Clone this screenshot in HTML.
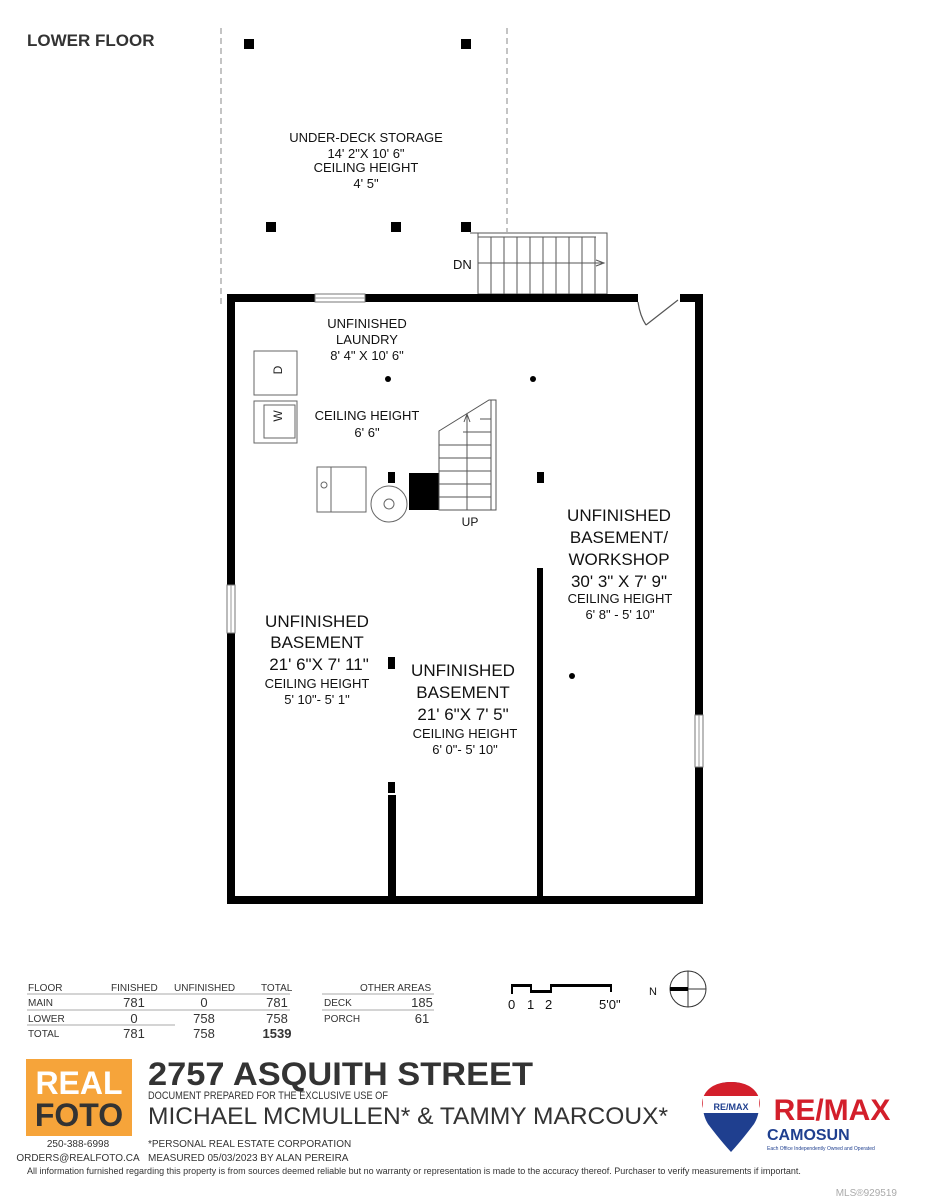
<!DOCTYPE html>
<html><head><meta charset="utf-8"><style>
html,body{margin:0;padding:0;background:#fff;}
svg{display:block;font-family:"Liberation Sans",sans-serif;}
</style></head><body>
<svg width="927" height="1200" viewBox="0 0 927 1200" xmlns="http://www.w3.org/2000/svg">
<rect width="927" height="1200" fill="#fff"/>
<text x="27" y="46" font-size="17" font-weight="bold" fill="#333">LOWER FLOOR</text>
<g stroke="#888" stroke-width="1" stroke-dasharray="6,4" fill="none">
<line x1="221" y1="28" x2="221" y2="306"/>
<line x1="507" y1="28" x2="507" y2="232"/>
</g>
<g fill="#000">
<rect x="244" y="39" width="10" height="10"/><rect x="461" y="39" width="10" height="10"/>
<rect x="266" y="222" width="10" height="10"/><rect x="391" y="222" width="10" height="10"/><rect x="461" y="222" width="10" height="10"/>
</g>
<g font-size="13" fill="#111" text-anchor="middle">
<text x="366" y="142">UNDER-DECK STORAGE</text>
<text x="366" y="158">14' 2"X 10' 6"</text>
<text x="366" y="172">CEILING HEIGHT</text>
<text x="366" y="188">4' 5"</text>
</g>
<g stroke="#555" stroke-width="1" fill="none">
<rect x="478" y="233" width="129" height="61"/>
<line x1="470" y1="233" x2="478" y2="233"/>
<line x1="478" y1="263" x2="602" y2="263"/>
<line x1="478" y1="237" x2="596" y2="237"/>
</g>
<g stroke="#555" stroke-width="1">
<line x1="491" y1="237" x2="491" y2="294"/><line x1="504" y1="237" x2="504" y2="294"/><line x1="517" y1="237" x2="517" y2="294"/><line x1="530" y1="237" x2="530" y2="294"/><line x1="543" y1="237" x2="543" y2="294"/><line x1="556" y1="237" x2="556" y2="294"/><line x1="569" y1="237" x2="569" y2="294"/><line x1="582" y1="237" x2="582" y2="294"/><line x1="595" y1="237" x2="595" y2="294"/>
</g>
<path d="M596 260 L604 263 L596 266" fill="none" stroke="#555"/>
<text x="453" y="269" font-size="13" fill="#111">DN</text>
<g fill="#000">
<rect x="227" y="294" width="411" height="8"/>
<rect x="680" y="294" width="23" height="8"/>
<rect x="227" y="294" width="8" height="610"/>
<rect x="695" y="294" width="8" height="610"/>
<rect x="227" y="896" width="476" height="8"/>
<rect x="537" y="568" width="6" height="330"/>
<rect x="388" y="795" width="8" height="103"/>
<rect x="388" y="782" width="7" height="11"/>
</g>
<rect x="315" y="294" width="50" height="8" fill="#fff" stroke="#777" stroke-width="1"/>
<line x1="315" y1="298" x2="365" y2="298" stroke="#999"/>
<rect x="227" y="585" width="8" height="48" fill="#fff" stroke="#777" stroke-width="1"/>
<line x1="231" y1="585" x2="231" y2="633" stroke="#999"/>
<rect x="695" y="715" width="8" height="52" fill="#fff" stroke="#777" stroke-width="1"/>
<line x1="699" y1="715" x2="699" y2="767" stroke="#999"/>
<path d="M678 300 L646 325 M638 302 Q640 316 646 325" fill="none" stroke="#555" stroke-width="1.2"/>
<g fill="#fff" stroke="#666" stroke-width="1">
<rect x="254" y="351" width="43" height="44"/>
<rect x="254" y="401" width="43" height="42"/>
<rect x="264" y="405" width="31" height="33"/>
<rect x="317" y="467" width="49" height="45"/>
<rect x="331" y="467" width="35" height="45"/>
<circle cx="324" cy="485" r="3"/>
<circle cx="389" cy="504" r="18"/>
<circle cx="389" cy="504" r="5"/>
</g>
<text x="285" y="373" font-size="12" transform="rotate(-90 282 373)" text-anchor="middle" fill="#222">D</text>
<text x="286" y="420" font-size="12" transform="rotate(-90 282 420)" text-anchor="middle" fill="#222">W</text>
<rect x="409" y="473" width="30" height="37" fill="#000"/>
<g stroke="#555" stroke-width="1" fill="none">
<path d="M439 510 L439 431 L489 400 L496 400 L496 510 Z"/>
<line x1="467" y1="414" x2="467" y2="510"/>
<line x1="439" y1="445" x2="491" y2="445"/><line x1="439" y1="458" x2="491" y2="458"/><line x1="439" y1="471" x2="491" y2="471"/><line x1="439" y1="484" x2="491" y2="484"/><line x1="439" y1="497" x2="491" y2="497"/>
<line x1="463" y1="432" x2="491" y2="432"/><line x1="480" y1="419" x2="491" y2="419"/>
<line x1="491" y1="400" x2="491" y2="510"/>
<path d="M464 422 L467 414 L470 422"/>
</g>
<text x="470" y="526" font-size="12" text-anchor="middle" fill="#111">UP</text>
<g fill="#000">
<circle cx="388" cy="379" r="3"/><circle cx="533" cy="379" r="3"/><circle cx="572" cy="676" r="3"/>
<rect x="388" y="472" width="7" height="11"/><rect x="537" y="472" width="7" height="11"/><rect x="388" y="657" width="7" height="12"/>
</g>
<g fill="#111" text-anchor="middle">
<g font-size="13"><text x="367" y="328">UNFINISHED</text><text x="367" y="344">LAUNDRY</text><text x="367" y="360">8' 4" X 10' 6"</text>
<text x="367" y="420">CEILING HEIGHT</text><text x="367" y="437">6' 6"</text></g>
<g font-size="17"><text x="619" y="521">UNFINISHED</text><text x="619" y="543">BASEMENT/</text><text x="619" y="565">WORKSHOP</text><text x="619" y="587">30' 3" X 7' 9"</text></g>
<g font-size="13"><text x="620" y="603">CEILING HEIGHT</text><text x="620" y="619">6' 8" - 5' 10"</text></g>
<g font-size="17"><text x="317" y="627">UNFINISHED</text><text x="317" y="648">BASEMENT</text><text x="319" y="670">21' 6"X 7' 11"</text></g>
<g font-size="13"><text x="317" y="688">CEILING HEIGHT</text><text x="317" y="704">5' 10"- 5' 1"</text></g>
<g font-size="17"><text x="463" y="676">UNFINISHED</text><text x="463" y="698">BASEMENT</text><text x="463" y="720">21' 6"X 7' 5"</text></g>
<g font-size="13"><text x="465" y="738">CEILING HEIGHT</text><text x="465" y="754">6' 0"- 5' 10"</text></g>
</g>
<g font-size="10" fill="#333">
<text x="28" y="991">FLOOR</text><text x="111" y="991">FINISHED</text><text x="174" y="991">UNFINISHED</text><text x="261" y="991">TOTAL</text>
<text x="28" y="1006">MAIN</text><text x="28" y="1022">LOWER</text><text x="28" y="1037">TOTAL</text>
<text x="360" y="991">OTHER AREAS</text><text x="324" y="1006">DECK</text><text x="324" y="1022">PORCH</text>
</g>
<g font-size="13" fill="#333" text-anchor="middle">
<text x="134" y="1007">781</text><text x="204" y="1007">0</text><text x="277" y="1007">781</text>
<text x="134" y="1023">0</text><text x="204" y="1023">758</text><text x="277" y="1023">758</text>
<text x="134" y="1038">781</text><text x="204" y="1038">758</text><text x="277" y="1038" font-weight="bold">1539</text>
<text x="422" y="1007">185</text><text x="422" y="1023">61</text>
</g>
<g stroke="#aaa" stroke-width="1">
<line x1="27" y1="994" x2="290" y2="994"/><line x1="27" y1="1010" x2="290" y2="1010"/><line x1="27" y1="1025" x2="175" y2="1025"/>
<line x1="322" y1="994" x2="434" y2="994"/><line x1="322" y1="1010" x2="434" y2="1010"/>
</g>
<g fill="none" stroke="#000" stroke-width="2"><path d="M512 994 V985 H531 V992 H551 V985 H611 V992"/></g>
<rect x="512" y="984" width="18" height="3" fill="#000"/><rect x="531" y="990" width="20" height="3" fill="#000"/><rect x="551" y="984" width="60" height="3" fill="#000"/>
<g font-size="13" fill="#111"><text x="508" y="1009">0</text><text x="527" y="1009">1</text><text x="545" y="1009">2</text><text x="599" y="1009">5'0"</text>
<text x="649" y="995" font-size="11">N</text></g>
<circle cx="688" cy="989" r="18" fill="none" stroke="#333"/>
<line x1="688" y1="971" x2="688" y2="1007" stroke="#333"/><line x1="670" y1="989" x2="706" y2="989" stroke="#333"/>
<rect x="670" y="987" width="18" height="4" fill="#000"/>
<rect x="26" y="1059" width="106" height="77" fill="#f6a43a"/>
<text x="79" y="1094" font-size="32" font-weight="bold" fill="#fff" text-anchor="middle">REAL</text>
<text x="79" y="1126" font-size="32" font-weight="bold" fill="#333" text-anchor="middle">FOTO</text>
<g font-size="10" fill="#333" text-anchor="middle"><text x="78" y="1147">250-388-6998</text><text x="78" y="1161">ORDERS@REALFOTO.CA</text></g>
<text x="148" y="1085" font-size="32" font-weight="bold" fill="#333" textLength="385" lengthAdjust="spacingAndGlyphs">2757 ASQUITH STREET</text>
<text x="148" y="1099" font-size="11" fill="#333" textLength="240" lengthAdjust="spacingAndGlyphs">DOCUMENT PREPARED FOR THE EXCLUSIVE USE OF</text>
<text x="148" y="1124" font-size="24" fill="#333" textLength="520" lengthAdjust="spacingAndGlyphs">MICHAEL MCMULLEN* &amp; TAMMY MARCOUX*</text>
<g font-size="10" fill="#333"><text x="148" y="1147">*PERSONAL REAL ESTATE CORPORATION</text><text x="148" y="1161">MEASURED 05/03/2023  BY ALAN PEREIRA</text></g>
<text x="27" y="1174" font-size="9" fill="#333">All information furnished regarding this property is from sources deemed reliable but no warranty or representation is made to the accuracy thereof. Purchaser to verify measurements if important.</text>
<path d="M731 1082 C702 1082 698 1108 708 1124 Q720 1140 731 1152 Q742 1140 754 1124 C764 1108 760 1082 731 1082 Z" fill="#1f3f8f"/>
<path d="M731 1082 C705 1082 700 1100 703 1108 L759 1108 C762 1100 757 1082 731 1082 Z" fill="#d31f2b"/>
<rect x="703" y="1096" width="56" height="17" fill="#fff"/>
<text x="731" y="1110" font-size="9" font-weight="bold" fill="#1f3f8f" text-anchor="middle">RE/MAX</text>
<text x="832" y="1120" font-size="30" font-weight="bold" fill="#d31f2b" text-anchor="middle">RE/MAX</text>
<text x="767" y="1140" font-size="16" font-weight="bold" fill="#1f3f8f">CAMOSUN</text>
<text x="767" y="1143" dy="7" font-size="5" fill="#1f3f8f">Each Office Independently Owned and Operated</text>
<text x="897" y="1196" font-size="10" fill="#aaa" text-anchor="end">MLS®929519</text>
</svg>
</body></html>
